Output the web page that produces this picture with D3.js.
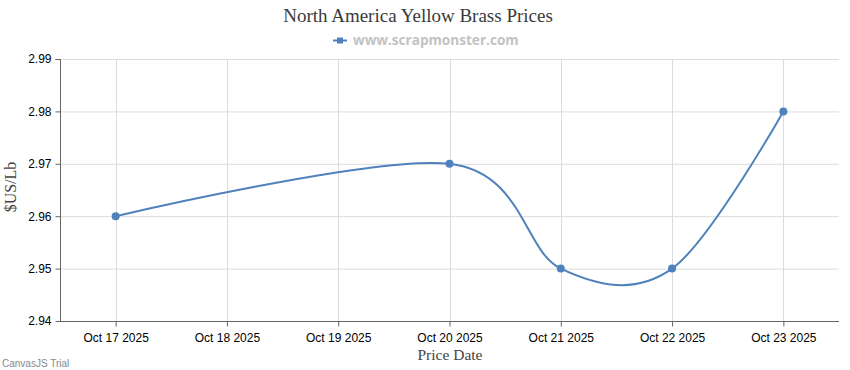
<!DOCTYPE html>
<html><head><meta charset="utf-8">
<script src="https://cdn.jsdelivr.net/npm/d3@7"></script>
<style>body{margin:0;background:#fff}svg{display:block}</style>
</head><body>
<svg id="c" width="850" height="370"></svg>
<script>
const title = "North America Yellow Brass Prices";
const legendLabel = "www.scrapmonster.com";
const dates = ["2025-10-17","2025-10-20","2025-10-21","2025-10-22","2025-10-23"];
const prices = [2.96, 2.97, 2.95, 2.95, 2.98];
const yTicks = [2.94, 2.95, 2.96, 2.97, 2.98, 2.99];
const xTickDates = ["2025-10-17","2025-10-18","2025-10-19","2025-10-20","2025-10-21","2025-10-22","2025-10-23"];
const xTitle = "Price Date";
const yTitle = "$US/Lb";

const parse = d3.utcParse("%Y-%m-%d");
const fmt = d3.utcFormat("%b %d %Y");
const color = "#4F81BC";
const svg = d3.select("#c");
const L = 60, R = 839, T = 59, B = 321;
const day = 864e5;
const x = d3.scaleUtc()
  .domain([+parse("2025-10-17") - day/2, +parse("2025-10-23") + day/2])
  .range([L, R]);
const y = d3.scaleLinear().domain([2.94, 2.99]).range([B, T]);

// grid
const g = svg.append("g");
g.selectAll(".hg").data(yTicks.slice(1)).join("line")
  .attr("x1", L).attr("x2", R).attr("y1", d => y(d)+0.5).attr("y2", d => y(d)+0.5)
  .attr("stroke", "#dcdcdc").attr("stroke-width", 1);
g.selectAll(".vg").data(xTickDates).join("line")
  .attr("x1", d => Math.round(x(parse(d)))+0.5).attr("x2", d => Math.round(x(parse(d)))+0.5)
  .attr("y1", T).attr("y2", B)
  .attr("stroke", "#dcdcdc").attr("stroke-width", 1);

// axes
const yAxis = d3.axisLeft(y).tickValues(yTicks).tickFormat(d3.format(".2f")).tickSize(5).tickPadding(4);
const ya = svg.append("g").attr("transform", `translate(${L+0.5},0)`).call(yAxis);
ya.select(".domain").attr("stroke", "#666").attr("d", `M-5,${T+0.5}H0V${B+0.5}`);
ya.selectAll(".tick line").attr("stroke", "#666");
ya.selectAll("text").attr("font-family", "Liberation Sans, Arial, sans-serif").attr("font-size", 12).attr("fill", "#000");

const xAxis = d3.axisBottom(x).tickValues(xTickDates.map(parse)).tickFormat(fmt).tickSize(5).tickPadding(7);
const xa = svg.append("g").attr("transform", `translate(0,${B+0.5})`).call(xAxis);
xa.select(".domain").attr("stroke", "#666").attr("d", `M${L},0H${R}`);
xa.selectAll(".tick line").attr("stroke", "#666");
xa.selectAll("text").attr("font-family", "Liberation Sans, Arial, sans-serif").attr("font-size", 12).attr("fill", "#000");

// line
const pts = dates.map((d, i) => [x(parse(d)), y(prices[i])]);
svg.append("path").attr("d", d3.line().curve(d3.curveCardinal.tension(0))(pts))
  .attr("fill", "none").attr("stroke", color).attr("stroke-width", 2);
svg.selectAll(".pt").data(pts).join("circle")
  .attr("cx", d => d[0]).attr("cy", d => d[1]).attr("r", 4).attr("fill", color);

// titles
svg.append("text").attr("x", 418).attr("y", 22).attr("text-anchor", "middle")
  .attr("font-family", "Liberation Serif, Times New Roman, serif").attr("font-size", 19).attr("fill", "#3a3a3a").text(title);
svg.append("text").attr("x", 450).attr("y", 360).attr("text-anchor", "middle")
  .attr("font-family", "Liberation Serif, Times New Roman, serif").attr("font-size", 15.5).attr("fill", "#444").text(xTitle);
svg.append("text").attr("transform", "translate(16,187) rotate(-90)").attr("text-anchor", "middle")
  .attr("font-family", "Liberation Serif, Times New Roman, serif").attr("font-size", 16).attr("fill", "#444").text(yTitle);

// legend
const lg = svg.append("g");
lg.append("line").attr("x1", 333).attr("x2", 347).attr("y1", 40.5).attr("y2", 40.5).attr("stroke", color).attr("stroke-width", 2);
lg.append("rect").attr("x", 337).attr("y", 37.5).attr("width", 6).attr("height", 6).attr("fill", color);
lg.append("text").attr("x", 353).attr("y", 45).attr("font-family", "Open Sans, DejaVu Sans, sans-serif")
  .attr("font-weight", "bold").attr("font-size", 13.6).attr("fill", "#c2c2c2").text(legendLabel);

svg.append("text").attr("x", 2).attr("y", 367).attr("font-family", "Liberation Sans, Arial, sans-serif")
  .attr("font-size", 10).attr("fill", "#888").text("CanvasJS Trial");
</script>
</body></html>
